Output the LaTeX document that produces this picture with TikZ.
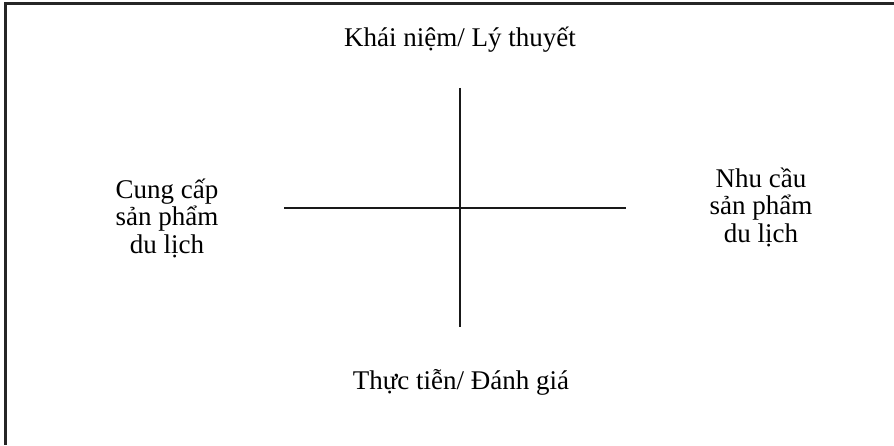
\documentclass[tikz,border=0pt]{standalone}
\usepackage{fontspec}
\setmainfont{Liberation Serif}
\usepackage{tikz}
\usetikzlibrary{positioning,calc}

\tikzset{
  axislabel/.style={align=center, inner sep=0pt, font=\fontsize{27}{27.5}\selectfont},
  axisline/.style={line width=1.8pt, black!90},
  frameline/.style={line width=3pt, black!85}
}

\begin{document}
\begin{tikzpicture}[x=1pt, y=1pt]
  \useasboundingbox (0, 0) rectangle (894, 445);

  % Frame (top and left edge only)
  \coordinate (tl) at (5, 441);
  \coordinate (tr) at (894, 441);
  \coordinate (bl) at (5, 0);
  \draw[frameline] (tr) -- (tl |- tr) -- (bl);

  % Cross
  \coordinate (ctr) at (460, 237);
  \coordinate (vtop) at (460, 357);
  \coordinate (vbot) at (460, 118);
  \coordinate (hleft) at (284, 237);
  \coordinate (hright) at (626, 237);
  \draw[axisline] (vtop) -- (vbot);
  \draw[axisline] (hleft) -- (hright);

  % Labels
  \node[axislabel] (theory) at (460, 405) {Khái niệm/ Lý thuyết};
  \node[axislabel] (practice) at (461, 63) {Thực tiễn/ Đánh giá};
  \node[axislabel] (supply) at (167, 227) {Cung cấp\\sản phẩm\\du lịch};
  \node[axislabel] (demand) at (761, 238) {Nhu cầu\\sản phẩm\\du lịch};
\end{tikzpicture}
\end{document}
